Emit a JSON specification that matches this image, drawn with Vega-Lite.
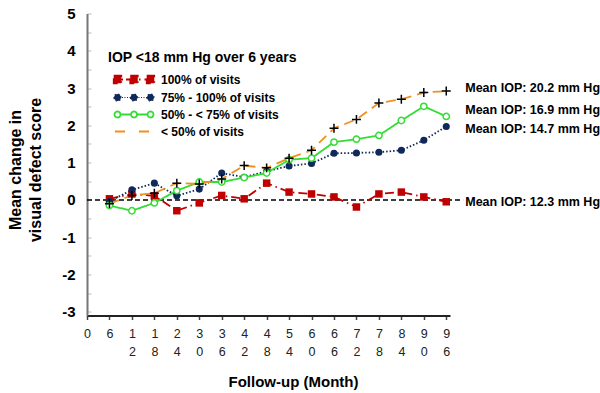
{
  "$schema": "https://vega.github.io/schema/vega-lite/v6.json",
  "width": 363,
  "height": 302,
  "autosize": {"type": "none"},
  "padding": {"left": 87, "top": 13.5, "right": 150, "bottom": 77.5},
  "background": "white",
  "config": {"view": {"stroke": null}, "font": "Liberation Sans"},
  "datasets": {
    "series": [
      {"month": 6, "series": "100% of visits", "value": 0.03},
      {"month": 12, "series": "100% of visits", "value": 0.16},
      {"month": 18, "series": "100% of visits", "value": 0.11},
      {"month": 24, "series": "100% of visits", "value": -0.29},
      {"month": 30, "series": "100% of visits", "value": -0.08},
      {"month": 36, "series": "100% of visits", "value": 0.12},
      {"month": 42, "series": "100% of visits", "value": 0.03},
      {"month": 48, "series": "100% of visits", "value": 0.45},
      {"month": 54, "series": "100% of visits", "value": 0.21},
      {"month": 60, "series": "100% of visits", "value": 0.16},
      {"month": 66, "series": "100% of visits", "value": 0.08},
      {"month": 72, "series": "100% of visits", "value": -0.19},
      {"month": 78, "series": "100% of visits", "value": 0.16},
      {"month": 84, "series": "100% of visits", "value": 0.21},
      {"month": 90, "series": "100% of visits", "value": 0.08},
      {"month": 96, "series": "100% of visits", "value": -0.05},
      {"month": 6, "series": "75% - 100% of visits", "value": -0.04},
      {"month": 12, "series": "75% - 100% of visits", "value": 0.27},
      {"month": 18, "series": "75% - 100% of visits", "value": 0.45},
      {"month": 24, "series": "75% - 100% of visits", "value": 0.11},
      {"month": 30, "series": "75% - 100% of visits", "value": 0.29},
      {"month": 36, "series": "75% - 100% of visits", "value": 0.72},
      {"month": 42, "series": "75% - 100% of visits", "value": 0.61},
      {"month": 48, "series": "75% - 100% of visits", "value": 0.77},
      {"month": 54, "series": "75% - 100% of visits", "value": 0.91},
      {"month": 60, "series": "75% - 100% of visits", "value": 0.98},
      {"month": 66, "series": "75% - 100% of visits", "value": 1.25},
      {"month": 72, "series": "75% - 100% of visits", "value": 1.26},
      {"month": 78, "series": "75% - 100% of visits", "value": 1.28},
      {"month": 84, "series": "75% - 100% of visits", "value": 1.33},
      {"month": 90, "series": "75% - 100% of visits", "value": 1.6},
      {"month": 96, "series": "75% - 100% of visits", "value": 1.97},
      {"month": 6, "series": "50% - < 75% of visits", "value": -0.15},
      {"month": 12, "series": "50% - < 75% of visits", "value": -0.29},
      {"month": 18, "series": "50% - < 75% of visits", "value": -0.08},
      {"month": 24, "series": "50% - < 75% of visits", "value": 0.25},
      {"month": 30, "series": "50% - < 75% of visits", "value": 0.48},
      {"month": 36, "series": "50% - < 75% of visits", "value": 0.48},
      {"month": 42, "series": "50% - < 75% of visits", "value": 0.6},
      {"month": 48, "series": "50% - < 75% of visits", "value": 0.72},
      {"month": 54, "series": "50% - < 75% of visits", "value": 1.08},
      {"month": 60, "series": "50% - < 75% of visits", "value": 1.12},
      {"month": 66, "series": "50% - < 75% of visits", "value": 1.55},
      {"month": 72, "series": "50% - < 75% of visits", "value": 1.63},
      {"month": 78, "series": "50% - < 75% of visits", "value": 1.73},
      {"month": 84, "series": "50% - < 75% of visits", "value": 2.13},
      {"month": 90, "series": "50% - < 75% of visits", "value": 2.51},
      {"month": 96, "series": "50% - < 75% of visits", "value": 2.24},
      {"month": 6, "series": "< 50% of visits", "value": -0.1},
      {"month": 12, "series": "< 50% of visits", "value": 0.12},
      {"month": 18, "series": "< 50% of visits", "value": 0.18},
      {"month": 24, "series": "< 50% of visits", "value": 0.45},
      {"month": 30, "series": "< 50% of visits", "value": 0.43},
      {"month": 36, "series": "< 50% of visits", "value": 0.56},
      {"month": 42, "series": "< 50% of visits", "value": 0.92},
      {"month": 48, "series": "< 50% of visits", "value": 0.86},
      {"month": 54, "series": "< 50% of visits", "value": 1.12},
      {"month": 60, "series": "< 50% of visits", "value": 1.33},
      {"month": 66, "series": "< 50% of visits", "value": 1.92},
      {"month": 72, "series": "< 50% of visits", "value": 2.16},
      {"month": 78, "series": "< 50% of visits", "value": 2.6},
      {"month": 84, "series": "< 50% of visits", "value": 2.7},
      {"month": 90, "series": "< 50% of visits", "value": 2.88},
      {"month": 96, "series": "< 50% of visits", "value": 2.92}
    ],
    "notes": [
      {"month": 96, "value": 3.0, "label": "Mean IOP: 20.2 mm Hg"},
      {"month": 96, "value": 2.41, "label": "Mean IOP: 16.9 mm Hg"},
      {"month": 96, "value": 1.9, "label": "Mean IOP: 14.7 mm Hg"},
      {"month": 96, "value": -0.05, "label": "Mean IOP: 12.3 mm Hg"}
    ],
    "zero": [{"month": 0, "month2": 100.5, "value": 0}]
  },
  "encoding": {
    "x": {
      "field": "month", "type": "quantitative",
      "scale": {"domain": [0, 97], "nice": false, "zero": false},
      "axis": {
        "values": [0, 6, 12, 18, 24, 30, 36, 42, 48, 54, 60, 66, 72, 78, 84, 90, 96],
        "labelExpr": "datum.value >= 10 ? [substring(datum.label,0,1), substring(datum.label,1,2)] : datum.label",
        "labelFontSize": 12.5, "labelColor": "#222", "labelLineHeight": 18,
        "labelBaseline": "top", "labelPadding": 8, "labelDx": -2,
        "labelFlush": false, "labelOverlap": false,
        "ticks": true, "tickSize": 4, "tickColor": "#444", "tickWidth": 1.5,
        "domainColor": "#222", "domainWidth": 2, "grid": false,
        "title": "Follow-up (Month)", "titleFontSize": 15, "titleFontWeight": "bold", "titleColor": "black",
        "titleX": 206, "titleY": 66, "titleBaseline": "middle", "titleAlign": "center"
      }
    },
    "y": {
      "field": "value", "type": "quantitative",
      "scale": {"domain": [-3.1, 5], "nice": false, "zero": false},
      "axis": {
        "values": [-3, -2.5, -2, -1.5, -1, -0.5, 0, 0.5, 1, 1.5, 2, 2.5, 3, 3.5, 4, 4.5, 5],
        "labelExpr": "datum.value % 1 === 0 ? '' + datum.value : ''",
        "labelFontSize": 15, "labelFontWeight": "bold", "labelColor": "black",
        "labelPadding": 16, "labelOverlap": false, "labelFlush": false,
        "ticks": true, "tickSize": -4, "tickColor": "#bbb",
        "domainColor": "#777", "domainWidth": 2, "grid": false,
        "title": ["Mean change in", "visual defect score"],
        "titleFontSize": 16, "titleFontWeight": "bold", "titleColor": "black", "titleLineHeight": 20,
        "titleAngle": 270, "titleX": -80, "titleY": 156, "titleAlign": "center", "titleBaseline": "top"
      }
    }
  },
  "layer": [
    {
      "data": {"name": "zero"},
      "mark": {"type": "rule", "color": "black", "strokeWidth": 1.5, "strokeDash": [5, 3], "clip": false},
      "encoding": {"x2": {"field": "month2"}}
    },
    {
      "data": {"name": "series"},
      "mark": {"type": "line", "strokeWidth": 1.8},
      "encoding": {
        "color": {
          "field": "series", "type": "nominal",
          "scale": {
            "domain": ["100% of visits", "75% - 100% of visits", "50% - < 75% of visits", "< 50% of visits"],
            "range": ["#c00000", "#10295b", "#33dd33", "#f0901e"]
          },
          "legend": {
            "title": "IOP <18 mm Hg over 6 years", "titleLimit": 400, "labelLimit": 400,
            "orient": "none", "legendX": 21, "legendY": 37, "padding": 0,
            "titleFontSize": 14, "titleFontWeight": "bold", "titleColor": "black", "titlePadding": 9,
            "labelFontSize": 12, "labelFontWeight": "bold", "labelColor": "black",
            "symbolSize": 100, "symbolOffset": 20, "labelOffset": 21, "rowPadding": 4,
            "encode": {
              "symbols": {
                "update": {
                  "shape": {"signal": "datum.value === '100% of visits' ? 'M-3.3,0L-2.2,0M-1.6,0L3.3,0M-4.05,-0.75L-2.55,-0.75L-2.55,0.75L-4.05,0.75ZM-0.75,-0.75L0.75,-0.75L0.75,0.75L-0.75,0.75ZM2.55,-0.75L4.05,-0.75L4.05,0.75L2.55,0.75Z' : datum.value === '75% - 100% of visits' ? 'M-2.4,0L-2.2,0M-1.9,0L-1.7,0M-1.4,0L-1.2,0M-0.9,0L-0.7,0M0.9,0L1.1,0M1.4,0L1.6,0M1.9,0L2.1,0M2.4,0L2.6,0M-4,0A0.7,0.7 0 1,0 -2.6,0A0.7,0.7 0 1,0 -4,0M-0.7,0A0.7,0.7 0 1,0 0.7,0A0.7,0.7 0 1,0 -0.7,0M2.6,0A0.7,0.7 0 1,0 4,0A0.7,0.7 0 1,0 2.6,0' : datum.value === '50% - < 75% of visits' ? 'M-2.7,0L-0.6,0M0.6,0L2.7,0M-3.9,0A0.6,0.6 0 1,0 -2.7,0A0.6,0.6 0 1,0 -3.9,0M-0.6,0A0.6,0.6 0 1,0 0.6,0A0.6,0.6 0 1,0 -0.6,0M2.7,0A0.6,0.6 0 1,0 3.9,0A0.6,0.6 0 1,0 2.7,0' : 'M-3.8,0L-0.6,0M1,0L3.8,0'"},
                  "fill": {"signal": "datum.value === '100% of visits' ? '#c00000' : datum.value === '75% - 100% of visits' ? '#10295b' : 'transparent'"},
                  "stroke": {"signal": "datum.value === '100% of visits' ? '#c00000' : datum.value === '75% - 100% of visits' ? '#10295b' : datum.value === '50% - < 75% of visits' ? '#33dd33' : '#f0901e'"},
                  "strokeDash": {"value": [1, 0]},
                  "strokeWidth": {"signal": "datum.value === '75% - 100% of visits' ? 1.2 : 1.8"},
                  "opacity": {"value": 1}
                }
              }
            }
          }
        },
        "strokeDash": {
          "field": "series", "type": "nominal",
          "scale": {
            "domain": ["100% of visits", "75% - 100% of visits", "50% - < 75% of visits", "< 50% of visits"],
            "range": [[9, 4, 1.5, 4], [1.5, 2], [1, 0], [10, 6]]
          },
          "legend": null
        }
      }
    },
    {
      "data": {"name": "series"},
      "transform": [{"filter": "datum.series === '100% of visits'"}],
      "mark": {"type": "point", "shape": "square", "filled": true, "color": "#c00000", "size": 56, "opacity": 1}
    },
    {
      "data": {"name": "series"},
      "transform": [{"filter": "datum.series === '75% - 100% of visits'"}],
      "mark": {"type": "point", "shape": "circle", "filled": true, "color": "#10295b", "size": 50, "opacity": 1}
    },
    {
      "data": {"name": "series"},
      "transform": [{"filter": "datum.series === '50% - < 75% of visits'"}],
      "mark": {"type": "point", "shape": "circle", "filled": false, "fill": "white", "stroke": "#33dd33", "strokeWidth": 1.5, "size": 40, "opacity": 1}
    },
    {
      "data": {"name": "series"},
      "transform": [{"filter": "datum.series === '< 50% of visits'"}],
      "mark": {"type": "point", "shape": "M-1,0L1,0M0,-1L0,1", "filled": false, "stroke": "black", "strokeWidth": 1.5, "size": 80, "opacity": 1}
    },
    {
      "data": {"name": "notes"},
      "mark": {"type": "text", "align": "left", "baseline": "middle", "dx": 19, "fontSize": 12.5, "fontWeight": "bold", "color": "black"},
      "encoding": {"text": {"field": "label"}}
    }
  ]
}
